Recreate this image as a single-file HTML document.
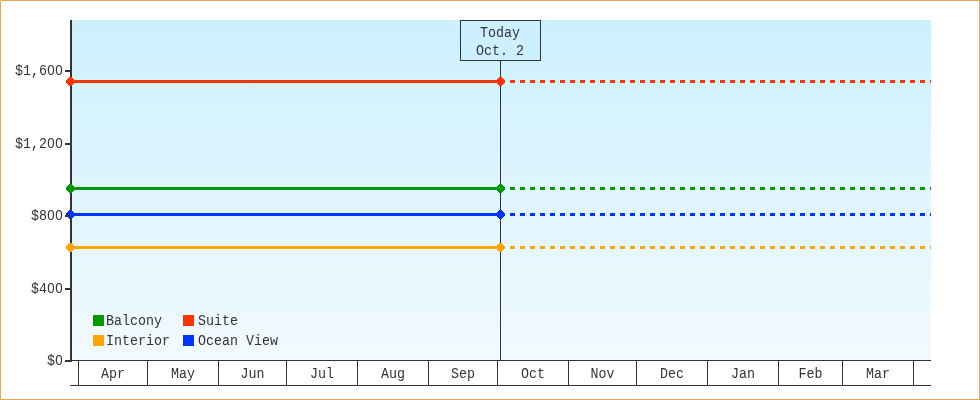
<!DOCTYPE html>
<html><head><meta charset="utf-8"><title>Chart</title>
<style>
html,body{margin:0;padding:0;background:#fff;}
body{width:980px;height:400px;overflow:hidden;}
svg{display:block;will-change:transform;}
text{font-family:"Liberation Mono",monospace;font-size:15px;fill:#333;}
text.z{font-family:"Liberation Sans",sans-serif;}
</style></head><body>
<svg width="980" height="400" viewBox="0 0 980 400">
<defs><linearGradient id="g" x1="0" y1="0" x2="0" y2="1"><stop offset="0" stop-color="#CCF0FF"/><stop offset="1" stop-color="#F2FAFF"/></linearGradient></defs>
<rect x="0" y="0" width="980" height="400" fill="#fff"/>
<rect x="0.5" y="0.5" width="979" height="399" fill="none" stroke="#E9A558" stroke-width="1"/>
<rect x="0" y="0" width="1" height="1" fill="#EEBB88"/>
<rect x="72" y="20" width="859" height="340" fill="url(#g)"/>

<rect x="500" y="60" width="1" height="300" fill="#333"/>
<rect x="460.5" y="20.5" width="80" height="40" fill="#CCF0FF" stroke="#333" stroke-width="1"/>
<text transform="translate(480,37) scale(0.8889,1)" x="0.00 9.00 18.00 27.00 36.00" style="white-space:pre">Today</text>
<text transform="translate(476,55) scale(0.8889,1)" x="0.00 9.00 18.00 27.00 36.00 45.00" style="white-space:pre">Oct. 2</text>
<rect x="70" y="80" width="430" height="3" fill="#FF3300"/>
<line x1="510" y1="81.5" x2="931" y2="81.5" stroke="#FF3300" stroke-width="3" stroke-dasharray="5 5"/>
<rect x="70" y="187" width="430" height="3" fill="#009900"/>
<line x1="510" y1="188.5" x2="931" y2="188.5" stroke="#009900" stroke-width="3" stroke-dasharray="5 5"/>
<rect x="70" y="213" width="430" height="3" fill="#0033FF"/>
<line x1="510" y1="214.5" x2="931" y2="214.5" stroke="#0033FF" stroke-width="3" stroke-dasharray="5 5"/>
<rect x="70" y="246" width="430" height="3" fill="#FFA500"/>
<line x1="510" y1="247.5" x2="931" y2="247.5" stroke="#FFA500" stroke-width="3" stroke-dasharray="5 5"/>
<rect x="70" y="20" width="2" height="342" fill="#333"/>
<path d="M69 77h3v1h1v1h1v1h1v3h-1v1h-1v1h-1v1h-3v-1h-1v-1h-1v-1h-1v-3h1v-1h1v-1h1z" fill="#FF3300"/>
<path d="M499 77h3v1h1v1h1v1h1v3h-1v1h-1v1h-1v1h-3v-1h-1v-1h-1v-1h-1v-3h1v-1h1v-1h1z" fill="#FF3300"/>
<path d="M69 184h3v1h1v1h1v1h1v3h-1v1h-1v1h-1v1h-3v-1h-1v-1h-1v-1h-1v-3h1v-1h1v-1h1z" fill="#009900"/>
<path d="M499 184h3v1h1v1h1v1h1v3h-1v1h-1v1h-1v1h-3v-1h-1v-1h-1v-1h-1v-3h1v-1h1v-1h1z" fill="#009900"/>
<path d="M69 210h3v1h1v1h1v1h1v3h-1v1h-1v1h-1v1h-3v-1h-1v-1h-1v-1h-1v-3h1v-1h1v-1h1z" fill="#0033FF"/>
<path d="M499 210h3v1h1v1h1v1h1v3h-1v1h-1v1h-1v1h-3v-1h-1v-1h-1v-1h-1v-3h1v-1h1v-1h1z" fill="#0033FF"/>
<path d="M69 243h3v1h1v1h1v1h1v3h-1v1h-1v1h-1v1h-3v-1h-1v-1h-1v-1h-1v-3h1v-1h1v-1h1z" fill="#FFA500"/>
<path d="M499 243h3v1h1v1h1v1h1v3h-1v1h-1v1h-1v1h-3v-1h-1v-1h-1v-1h-1v-3h1v-1h1v-1h1z" fill="#FFA500"/>
<rect x="65" y="360" width="5" height="2" fill="#333"/>
<text transform="translate(47,365) scale(0.8889,1)" x="0.00 9.00" style="white-space:pre">$ </text><text class="z" transform="translate(47,365) scale(0.8889,1)" x="9.33">0</text>
<rect x="65" y="288" width="5" height="2" fill="#333"/>
<text transform="translate(31,293) scale(0.8889,1)" x="0.00 9.00 18.00 27.00" style="white-space:pre">$4  </text><text class="z" transform="translate(31,293) scale(0.8889,1)" x="18.33 27.33">00</text>
<rect x="65" y="215" width="5" height="2" fill="#333"/>
<text transform="translate(31,220) scale(0.8889,1)" x="0.00 9.00 18.00 27.00" style="white-space:pre">$8  </text><text class="z" transform="translate(31,220) scale(0.8889,1)" x="18.33 27.33">00</text>
<rect x="65" y="143" width="5" height="2" fill="#333"/>
<text transform="translate(15,148) scale(0.8889,1)" x="0.00 9.00 18.00 27.00 36.00 45.00" style="white-space:pre">$1,2  </text><text class="z" transform="translate(15,148) scale(0.8889,1)" x="36.33 45.33">00</text>
<rect x="65" y="70" width="5" height="2" fill="#333"/>
<text transform="translate(15,75) scale(0.8889,1)" x="0.00 9.00 18.00 27.00 36.00 45.00" style="white-space:pre">$1,6  </text><text class="z" transform="translate(15,75) scale(0.8889,1)" x="36.33 45.33">00</text>
<rect x="72" y="360" width="859" height="1" fill="#333"/>
<rect x="70" y="385" width="861" height="1" fill="#333"/>
<rect x="78" y="360" width="1" height="26" fill="#333"/>
<rect x="147" y="360" width="1" height="26" fill="#333"/>
<rect x="218" y="360" width="1" height="26" fill="#333"/>
<rect x="286" y="360" width="1" height="26" fill="#333"/>
<rect x="357" y="360" width="1" height="26" fill="#333"/>
<rect x="428" y="360" width="1" height="26" fill="#333"/>
<rect x="497" y="360" width="1" height="26" fill="#333"/>
<rect x="568" y="360" width="1" height="26" fill="#333"/>
<rect x="636" y="360" width="1" height="26" fill="#333"/>
<rect x="707" y="360" width="1" height="26" fill="#333"/>
<rect x="778" y="360" width="1" height="26" fill="#333"/>
<rect x="842" y="360" width="1" height="26" fill="#333"/>
<rect x="913" y="360" width="1" height="26" fill="#333"/>
<text transform="translate(101.0,378) scale(0.8889,1)" x="0.00 9.00 18.00" style="white-space:pre">Apr</text>
<text transform="translate(171.0,378) scale(0.8889,1)" x="0.00 9.00 18.00" style="white-space:pre">May</text>
<text transform="translate(240.5,378) scale(0.8889,1)" x="0.00 9.00 18.00" style="white-space:pre">Jun</text>
<text transform="translate(310.0,378) scale(0.8889,1)" x="0.00 9.00 18.00" style="white-space:pre">Jul</text>
<text transform="translate(381.0,378) scale(0.8889,1)" x="0.00 9.00 18.00" style="white-space:pre">Aug</text>
<text transform="translate(451.0,378) scale(0.8889,1)" x="0.00 9.00 18.00" style="white-space:pre">Sep</text>
<text transform="translate(521.0,378) scale(0.8889,1)" x="0.00 9.00 18.00" style="white-space:pre">Oct</text>
<text transform="translate(590.5,378) scale(0.8889,1)" x="0.00 9.00 18.00" style="white-space:pre">Nov</text>
<text transform="translate(660.0,378) scale(0.8889,1)" x="0.00 9.00 18.00" style="white-space:pre">Dec</text>
<text transform="translate(731.0,378) scale(0.8889,1)" x="0.00 9.00 18.00" style="white-space:pre">Jan</text>
<text transform="translate(798.5,378) scale(0.8889,1)" x="0.00 9.00 18.00" style="white-space:pre">Feb</text>
<text transform="translate(866.0,378) scale(0.8889,1)" x="0.00 9.00 18.00" style="white-space:pre">Mar</text>
<rect x="93" y="315" width="11" height="11" fill="#009900"/>
<text transform="translate(106,325) scale(0.8889,1)" x="0.00 9.00 18.00 27.00 36.00 45.00 54.00" style="white-space:pre">Balcony</text>
<rect x="183" y="315" width="11" height="11" fill="#FF3300"/>
<text transform="translate(198,325) scale(0.8889,1)" x="0.00 9.00 18.00 27.00 36.00" style="white-space:pre">Suite</text>
<rect x="93" y="335" width="11" height="11" fill="#FFA500"/>
<text transform="translate(106,345) scale(0.8889,1)" x="0.00 9.00 18.00 27.00 36.00 45.00 54.00 63.00" style="white-space:pre">Interior</text>
<rect x="183" y="335" width="11" height="11" fill="#0033FF"/>
<text transform="translate(198,345) scale(0.8889,1)" x="0.00 9.00 18.00 27.00 36.00 45.00 54.00 63.00 72.00 81.00" style="white-space:pre">Ocean View</text>
</svg></body></html>
